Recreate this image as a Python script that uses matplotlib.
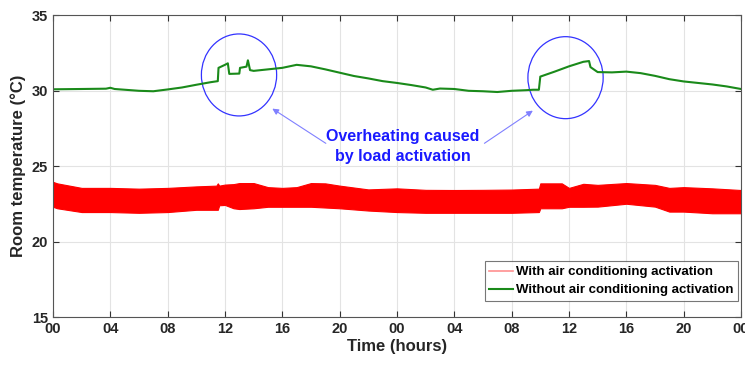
import matplotlib.pyplot as plt
from matplotlib.patches import Ellipse
from matplotlib.lines import Line2D

plt.rcParams['font.family'] = ['Liberation Sans', 'DejaVu Sans']
plt.rcParams['font.weight'] = 'bold'

# Red band (with air conditioning): envelope of the fast on/off signal
band_t = [0, 0.3, 2, 4, 6, 8, 10, 11.4, 11.5, 11.6, 12, 12.6, 13, 14, 15, 16, 17, 18, 19, 20,
          22, 24, 26, 28, 30, 32, 33.9, 34, 35.5, 36, 37, 38, 40, 42, 43, 44, 46, 48]
band_hi = [23.95, 23.85, 23.55, 23.55, 23.5, 23.55, 23.65, 23.7, 23.85, 23.7, 23.77, 23.8, 23.87, 23.87,
           23.6, 23.55, 23.6, 23.87, 23.85, 23.7, 23.45, 23.52, 23.42, 23.41, 23.42, 23.44, 23.5,
           23.85, 23.85, 23.55, 23.82, 23.75, 23.87, 23.75, 23.55, 23.6, 23.52, 23.41]
band_lo = [22.3, 22.2, 21.95, 21.95, 21.9, 21.95, 22.1, 22.1, 22.1, 22.4, 22.42, 22.2, 22.15, 22.2,
           22.3, 22.3, 22.3, 22.3, 22.25, 22.2, 22.05, 21.95, 21.9, 21.9, 21.9, 21.9, 21.95,
           22.2, 22.2, 22.3, 22.3, 22.31, 22.5, 22.31, 21.98, 21.98, 21.87, 21.87]

# Green line (without air conditioning)
green_t = [0, 2, 3.7, 4, 4.3, 6, 7, 8, 9, 10, 11, 11.5, 11.55, 12, 12.2, 12.3, 13, 13.05, 13.5, 13.6,
           13.75, 14, 15, 16, 17, 18, 19, 20, 21, 22, 23, 24, 25, 26, 26.5, 27, 28, 29, 30, 31,
           32, 33, 33.5, 33.9, 34, 35, 36, 37, 37.4, 37.5, 38, 39, 40, 41, 42, 43, 44, 45, 46, 47, 48]
green_y = [30.08, 30.1, 30.12, 30.18, 30.1, 29.98, 29.95, 30.07, 30.2, 30.38, 30.55, 30.62, 31.5, 31.7,
           31.8, 31.1, 31.12, 31.5, 31.58, 32.0, 31.35, 31.3, 31.4, 31.5, 31.7, 31.6, 31.4, 31.18,
           30.96, 30.8, 30.62, 30.5, 30.36, 30.2, 30.05, 30.13, 30.1, 29.98, 29.95, 29.9, 29.98,
           30.02, 30.05, 30.05, 30.92, 31.25, 31.6, 31.9, 31.95, 31.55, 31.22, 31.2, 31.25, 31.15,
           30.97, 30.75, 30.6, 30.5, 30.4, 30.27, 30.1]

xticks = list(range(0, 49, 4))
xlabels = ['00', '04', '08', '12', '16', '20', '00', '04', '08', '12', '16', '20', '00']
yticks = [15, 20, 25, 30, 35]

fig = plt.figure(figsize=(7.45, 3.65), dpi=100)
ax = fig.add_axes([0.0711, 0.1315, 0.9235, 0.8274])

ax.fill_between(band_t, band_lo, band_hi, color='#ff0000', linewidth=0.8, edgecolor='#ff0000')
ax.plot(green_t, green_y, color='#1a8a1a', linewidth=1.5)

# overheating circles
for cx, cy in [(12.98, 31.03), (35.76, 30.85)]:
    ax.add_patch(Ellipse((cx, cy), 5.25, 5.43, fill=False, edgecolor='#3333ff', linewidth=0.9))

ax.text(24.42, 26.3, 'Overheating caused\nby load activation', color='#1a1aff', fontsize=11.5,
        fontweight='bold', ha='center', va='center', linespacing=1.4)
arrow_kw = dict(arrowstyle='-|>', color='#8080ff', lw=0.8, mutation_scale=9)
ax.annotate('', xy=(15.14, 28.9), xytext=(19.2, 26.4), arrowprops=arrow_kw)
ax.annotate('', xy=(33.64, 28.77), xytext=(29.94, 26.4), arrowprops=arrow_kw)

ax.set_xlim(0, 48)
ax.set_ylim(15, 35)
ax.set_xticks(xticks)
ax.set_xticklabels(xlabels)
ax.set_yticks(yticks)
ax.tick_params(direction='in', top=True, right=True, labelsize=10.5, length=4, color='#333333',
               labelcolor='#262626')
ax.grid(True, color='#e3e3e3', linewidth=0.8)
ax.set_axisbelow(True)
for s in ax.spines.values():
    s.set_color('#555555')
    s.set_linewidth(0.8)

ax.set_xlabel('Time (hours)', fontsize=12, fontweight='bold', labelpad=2, color='#262626')
ax.set_ylabel('Room temperature (°C)', fontsize=12, fontweight='bold', labelpad=4, color='#262626')

handles = [Line2D([], [], color='#ff9090', lw=1.2), Line2D([], [], color='#1a8a1a', lw=1.5)]
leg = ax.legend(handles, ['With air conditioning activation', 'Without air conditioning activation'],
                loc='lower right', bbox_to_anchor=(0.9956, 0.053), fontsize=9.5, frameon=True,
                fancybox=False, handlelength=1.8, handletextpad=0.2, borderpad=0.35,
                labelspacing=0.45, borderaxespad=0)
leg.get_frame().set_edgecolor('#555555')
leg.get_frame().set_linewidth(0.8)

fig.savefig('out.png', dpi=100)
